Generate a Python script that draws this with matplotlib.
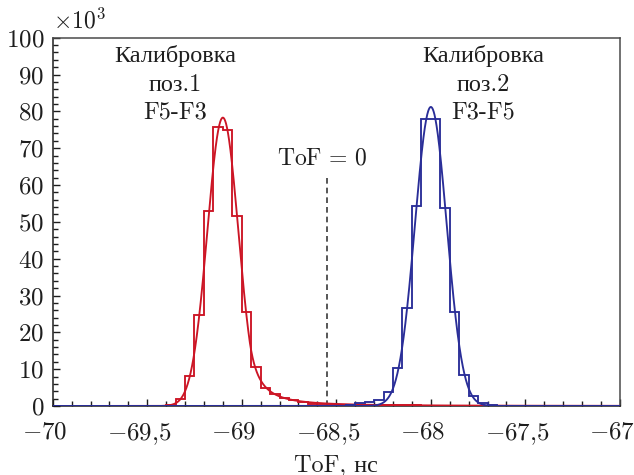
import math
import numpy as np
import matplotlib
matplotlib.use("Agg")
import matplotlib.pyplot as plt
import matplotlib.transforms as mtransforms
from matplotlib.ticker import MultipleLocator, FixedLocator

# ---- histogram data (counts in thousands), bin width 0.05 ns ----
bin_width = 0.05
red_start = -69.45
red_counts = [0.1, 0.4, 1.9, 8.1, 24.7, 53.0, 75.7, 75.0, 51.6, 25.6, 10.7, 4.9,
              3.3, 2.3, 1.6, 1.0, 0.6, 0.4, 0.25, 0.25, 0.25, 0.22, 0.2, 0.2,
              0.2, 0.18, 0.15, 0.15, 0.12, 0.12, 0.1, 0.1, 0.1, 0.1, 0.08]
blue_start = -68.45
blue_counts = [0.2, 0.7, 1.2, 1.7, 3.9, 10.2, 26.7, 54.2, 78.0, 77.8, 53.7, 25.6,
               8.4, 2.7, 0.9, 0.3, 0.1]

# ---- fit parameters (amplitude in thousands, mean and sigma in ns) ----
red_fit = dict(amp=78.3, mean=-69.10, sigma=0.082, alpha=1.7, n=2.0)
blue_fit = dict(amp=81.2, mean=-68.0, sigma=0.084)

tof_zero = -68.55
tof_zero_top = 62.7

x_ticks = [-70, -69.5, -69, -68.5, -68, -67.5, -67]
x_tick_labels = ["$-70$", "$-69{,}5$", "$-69$", "$-68{,}5$", "$-68$", "$-67{,}5$", "$-67$"]
y_ticks = [0, 10, 20, 30, 40, 50, 60, 70, 80, 90, 100]

RED = "#cc1525"
BLUE = "#2a2e98"
INK = "#1e1e1e"

plt.rcParams["mathtext.fontset"] = "cm"
plt.rcParams["font.family"] = ["cmr10", "Liberation Serif"]
plt.rcParams["axes.unicode_minus"] = False

fig = plt.figure(figsize=(6.34, 4.75), dpi=100)
ax = fig.add_axes([0.0831, 0.1453, 0.8947, 0.7753])

x_lo, x_hi = -70.0, -67.0
n_bins = int(round((x_hi - x_lo) / bin_width))
edges = x_lo + bin_width * np.arange(n_bins + 1)


def full_counts(start, counts):
    out = np.zeros(n_bins)
    i0 = int(round((start - x_lo) / bin_width))
    out[i0:i0 + len(counts)] = counts
    return out


red_full = full_counts(red_start, red_counts)
blue_full = full_counts(blue_start, blue_counts)

xs = np.linspace(x_lo, x_hi, 3001)


def crystal_ball_right(x, amp, mean, sigma, alpha, n):
    t = (x - mean) / sigma
    core = np.exp(-0.5 * t ** 2)
    tail = math.exp(-0.5 * alpha ** 2) * np.abs(1 + alpha * (t - alpha) / n) ** (-n)
    return amp * np.where(t <= alpha, core, tail)


def gauss(x, amp, mean, sigma):
    return amp * np.exp(-0.5 * ((x - mean) / sigma) ** 2)


lw = 1.35
ax.stairs(red_full, edges, color=RED, lw=lw, zorder=3)
ax.plot(xs, crystal_ball_right(xs, **red_fit), color=RED, lw=lw, zorder=3)
ax.stairs(blue_full, edges, color=BLUE, lw=lw, zorder=4)
ax.plot(xs, gauss(xs, **blue_fit), color=BLUE, lw=lw, zorder=4)

ax.plot([tof_zero, tof_zero], [0, tof_zero_top], color="#3a3a3a", lw=1.2,
        ls=(0, (3.4, 2.4)), zorder=2)

ax.set_xlim(x_lo, x_hi)
ax.set_ylim(0, 100)
ax.xaxis.set_major_locator(FixedLocator(x_ticks))
ax.set_xticklabels(x_tick_labels)
ax.xaxis.set_minor_locator(MultipleLocator(0.1))
ax.yaxis.set_major_locator(FixedLocator(y_ticks))
ax.set_yticklabels([f"${v}$" for v in y_ticks])
ax.yaxis.set_minor_locator(MultipleLocator(2))

ax.tick_params(which="both", direction="in", top=False, right=False,
               labelsize=18, colors=INK, width=1.0)
ax.tick_params(which="major", length=5.0)
ax.tick_params(which="minor", length=3.6)
ax.tick_params(axis="x", which="major", pad=11)
ax.tick_params(axis="y", which="major", pad=6)

# shift the x tick labels slightly left
shift = mtransforms.ScaledTranslation(-8 / 100, 0, fig.dpi_scale_trans)
for lbl in ax.get_xticklabels():
    lbl.set_transform(lbl.get_transform() + shift)

for side in ["left", "bottom"]:
    ax.spines[side].set_color(INK)
    ax.spines[side].set_linewidth(1.1)
for side in ["top", "right"]:
    ax.spines[side].set_color("#4a4a4a")
    ax.spines[side].set_linewidth(1.1)

ax.set_xlabel("ToF, нс", fontsize=17.5, color=INK, labelpad=5)

txt = dict(fontsize=17.5, color=INK, ha="center", va="center")
ax.text(-69.353, 95.0, "Калибровка", **txt)
ax.text(-69.353, 87.2, "поз.1", **txt)
ax.text(-69.353, 79.8, "F5-F3", **txt)
ax.text(-67.725, 95.0, "Калибровка", **txt)
ax.text(-67.725, 87.2, "поз.2", **txt)
ax.text(-67.725, 79.8, "F3-F5", **txt)
ax.text(-68.576, 67.3, r"$\mathrm{ToF}\,=\,0$", fontsize=17, color=INK,
        ha="center", va="center")

ax.annotate(r"$\times10^3$", xy=(0, 1), xycoords="axes fraction",
            xytext=(0, 3), textcoords="offset points", ha="left", va="bottom",
            fontsize=17, color=INK)

fig.savefig("out.png", dpi=100)
